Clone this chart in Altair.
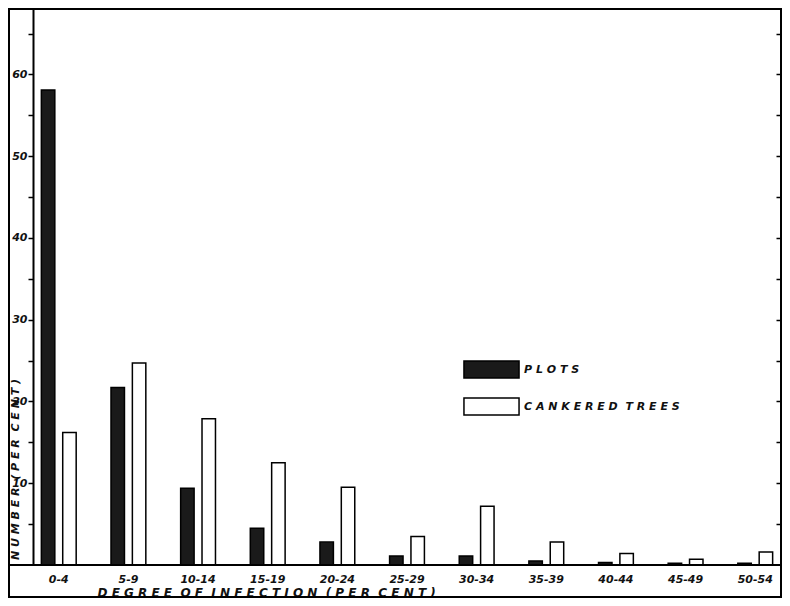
import altair as alt
import pandas as pd

categories = ["0-4", "5-9", "10-14", "15-19", "20-24", "25-29", "30-34",
              "35-39", "40-44", "45-49", "50-54"]
plots = [58.1, 21.7, 9.4, 4.5, 2.8, 1.1, 1.1, 0.5, 0.3, 0.2, 0.2]
cankered = [16.2, 24.7, 17.9, 12.5, 9.5, 3.5, 7.2, 2.8, 1.4, 0.7, 1.6]
series = ["PLOTS", "CANKERED TREES"]
y_ticks = [5, 10, 15, 20, 25, 30, 35, 40, 45, 50, 55, 60, 65]

NB = "\u00a0"
x_title = (NB * 2).join(" ".join(w) for w in
                        ["DEGREE", "OF", "INFECTION", "(PER", "CENT)"])
y_title = (NB * 2).join(" ".join(w) for w in ["NUMBER", "(PER", "CENT)"])
legend_expr = ("datum.label == 'PLOTS' ? 'P L O T S' : "
               "'C A N K E R E D" + NB * 2 + "T R E E S'")

rows = []
for c, p, k in zip(categories, plots, cankered):
    rows.append({"degree": c, "series": series[0], "value": p})
    rows.append({"degree": c, "series": series[1], "value": k})
df = pd.DataFrame(rows)

W, H = 748, 556
FONT = "DejaVu Sans"
yscale = alt.Scale(domain=[0, 68], nice=False, zero=True)

bars = alt.Chart(df).mark_bar(stroke="black", strokeWidth=1.5).encode(
    x=alt.X("degree:N", sort=categories,
            scale=alt.Scale(paddingInner=0.5, paddingOuter=0.12),
            axis=alt.Axis(domain=False, ticks=False, labelAngle=0,
                          labelFont=FONT, labelFontStyle="italic",
                          labelFontWeight="bold",
                          labelFontSize=11, labelColor="#111",
                          labelPadding=8,
                          title=x_title,
                          titleFont=FONT, titleFontStyle="italic",
                          titleFontWeight="bold", titleFontSize=12,
                          titleColor="#111", titleAnchor="start",
                          titleAlign="left", titleX=64, titleY=31,
                          titleBaseline="alphabetic")),
    xOffset=alt.XOffset("series:N", sort=series,
                        scale=alt.Scale(domain=series, paddingInner=0.37,
                                        paddingOuter=0)),
    y=alt.Y("value:Q", scale=yscale,
            axis=alt.Axis(values=y_ticks,
                          labelExpr="datum.value % 10 == 0 ? datum.label : ''",
                          tickSize=5, tickWidth=1.5, tickColor="black",
                          domainWidth=2, domainColor="black", grid=False,
                          labelFont=FONT, labelFontStyle="italic",
                          labelFontWeight="bold",
                          labelFontSize=11, labelColor="#111",
                          labelPadding=1,
                          title=y_title,
                          titleFont=FONT, titleFontStyle="italic",
                          titleFontWeight="bold", titleFontSize=11,
                          titleColor="#111", titleAngle=270,
                          titleX=-18, titleY=460, titleAlign="center",
                          titleBaseline="middle")),
    fill=alt.Fill("series:N", sort=series,
                  scale=alt.Scale(domain=series, range=["#1a1a1a", "#ffffff"]),
                  legend=alt.Legend(orient="none", legendX=449, legendY=351,
                                    title=None,
                                    symbolType="M-3.24,-1H3.24V1H-3.24Z",
                                    symbolSize=289,
                                    symbolStrokeColor="black",
                                    symbolStrokeWidth=1.5,
                                    labelOffset=23, rowPadding=14,
                                    labelFont=FONT, labelFontStyle="italic",
                                    labelFontWeight="bold",
                                    labelFontSize=11, labelColor="#111",
                                    labelExpr=legend_expr)),
)

right_ticks = alt.Chart(df).mark_point(opacity=0).encode(
    y=alt.Y("value:Q", scale=yscale,
            axis=alt.Axis(orient="right", offset=-5, values=y_ticks,
                          labels=False, domain=False, tickSize=5,
                          tickWidth=1.5, tickColor="black", grid=False,
                          title=None)),
)

one = pd.DataFrame({"k": [0]})
frame = alt.Chart(one).mark_rect(fill="transparent", stroke="black",
                                 strokeWidth=2).encode(
    x=alt.value(-24), x2=alt.value(W), y=alt.value(0), y2=alt.value(588))
baseline = alt.Chart(one).mark_rule(color="black", strokeWidth=2).encode(
    x=alt.value(-24), x2=alt.value(W), y=alt.value(H))

chart = alt.layer(bars, right_ticks, frame, baseline).resolve_scale(
    y="shared").resolve_axis(y="independent").properties(
    width=W, height=H,
    autosize=alt.AutoSizeParams(type="none"),
    padding={"left": 25, "top": 1, "right": 1, "bottom": 33},
    background="white",
).configure_view(stroke=None).configure(font=FONT)

chart.save("out.html", embed_options={"renderer": "svg", "actions": False})
